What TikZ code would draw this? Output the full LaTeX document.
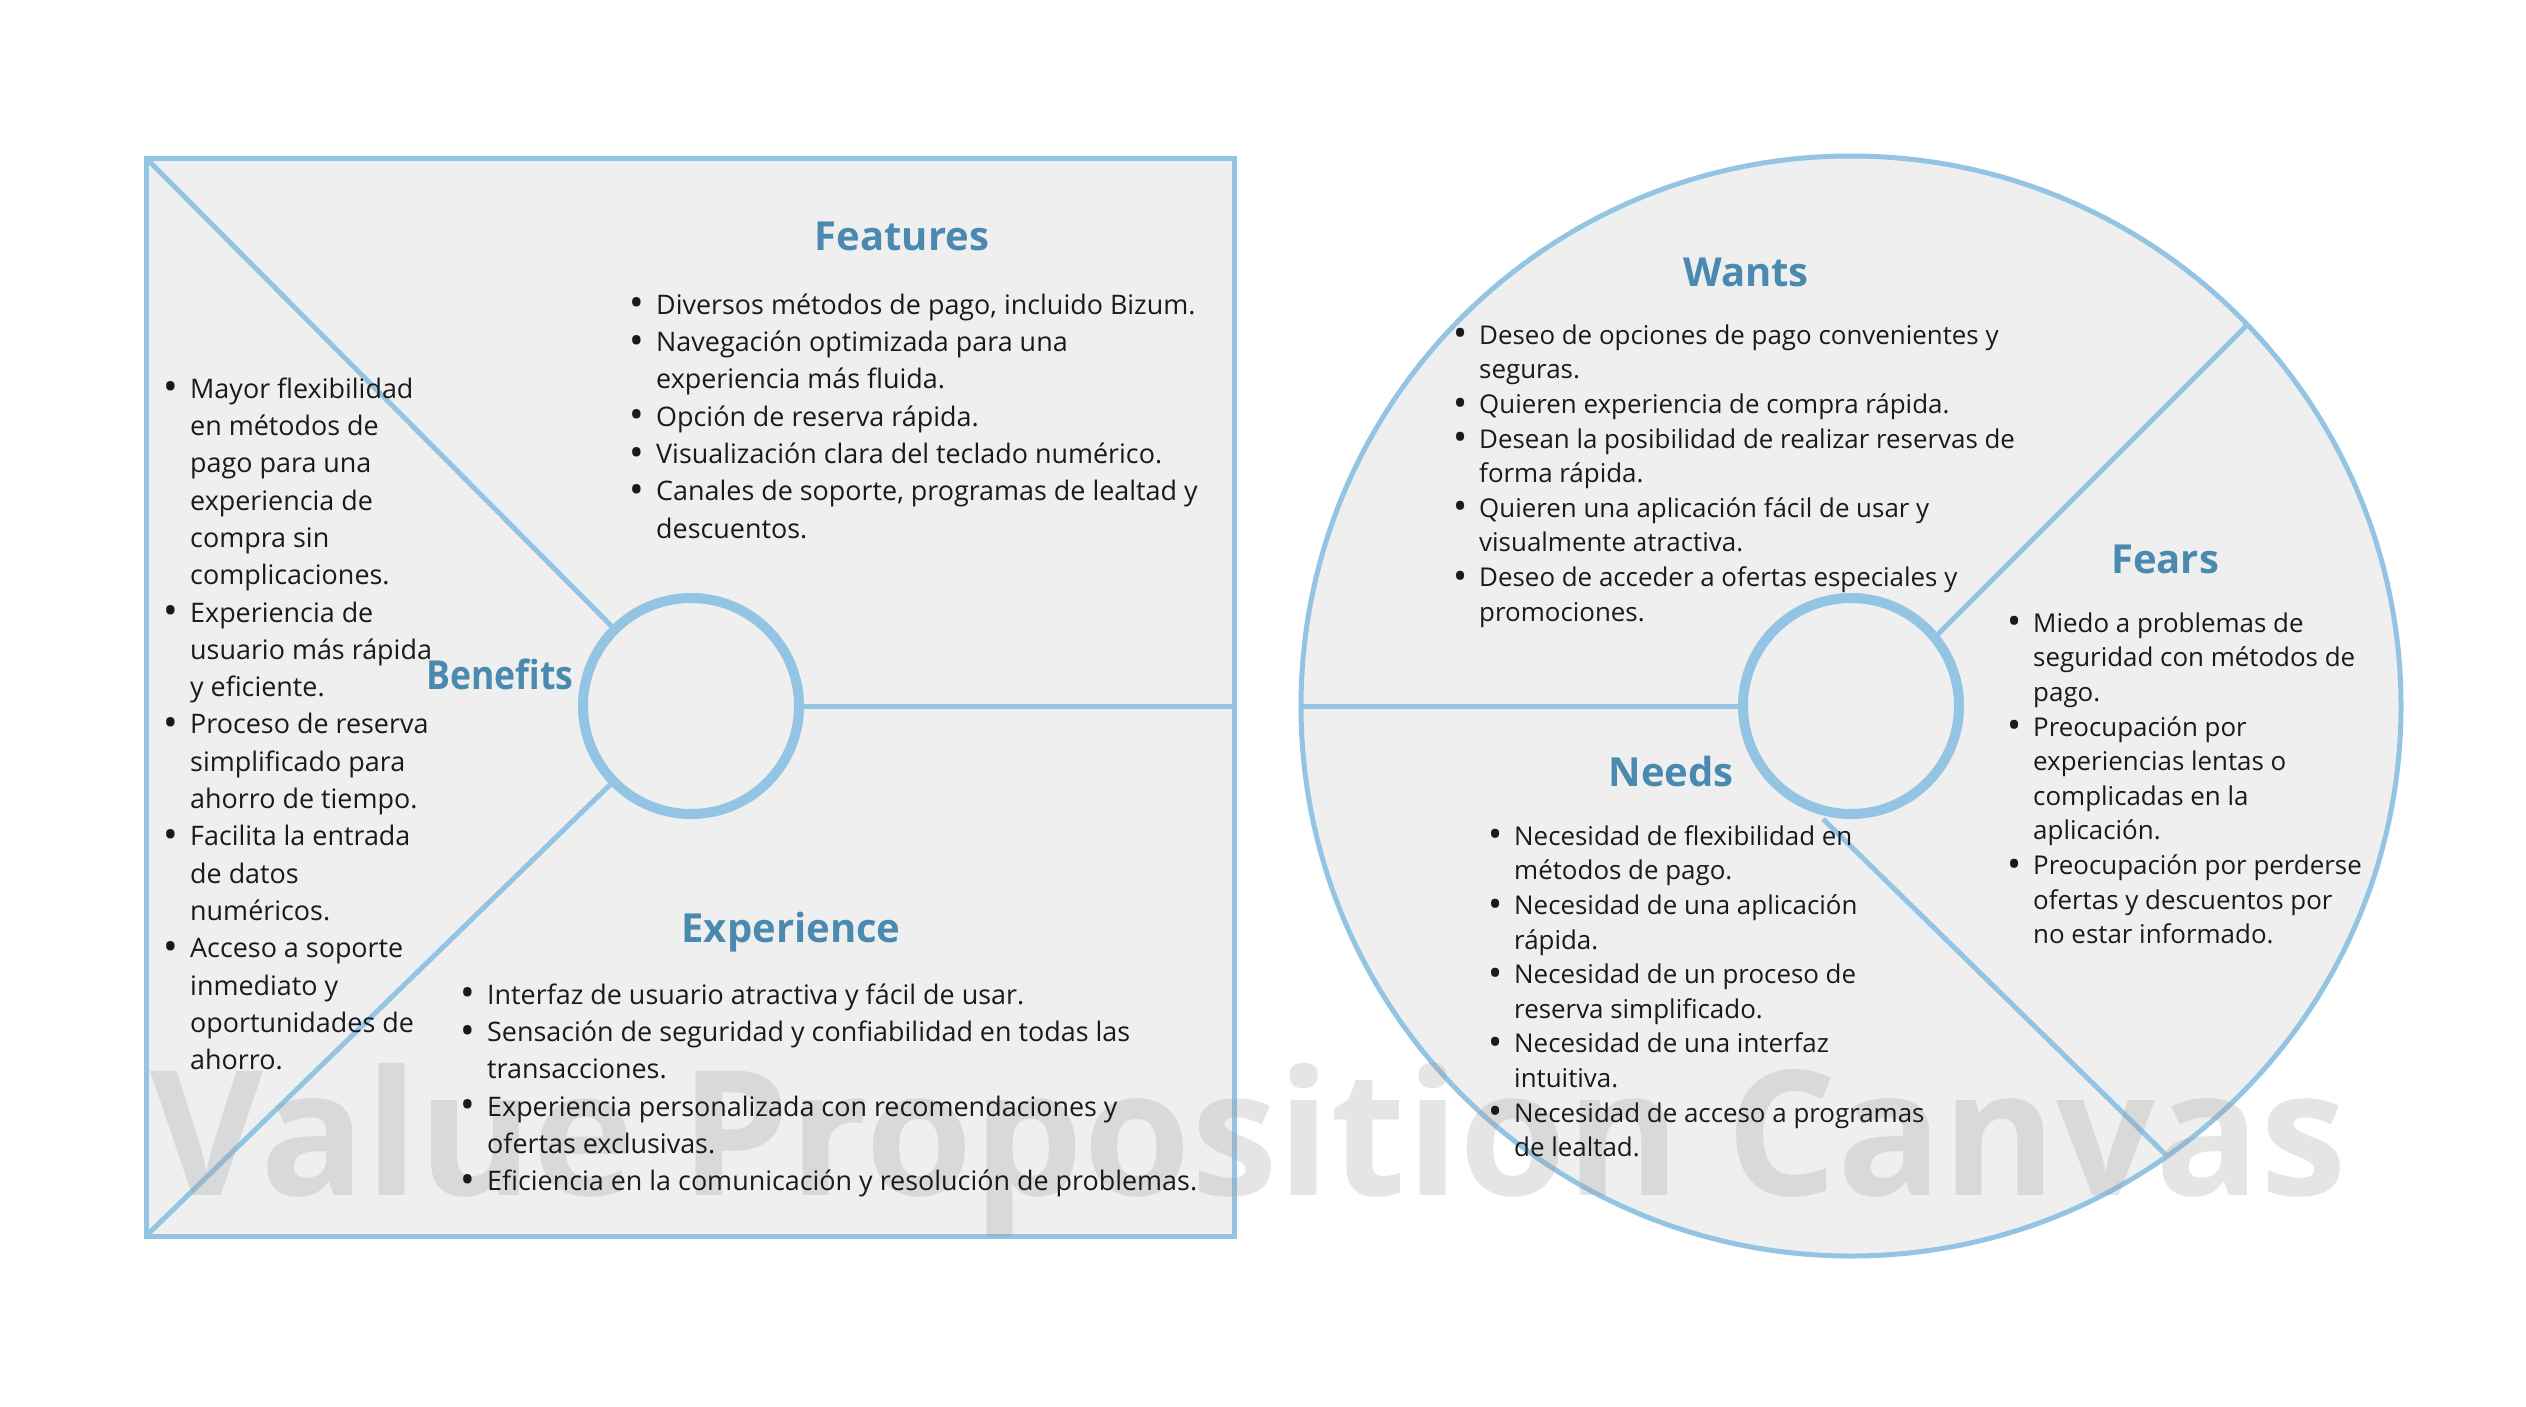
\documentclass[tikz,border=0pt]{standalone}
\usepackage{fontspec}
\usepackage{graphicx}
\setmainfont{Open Sans}
\definecolor{lineblue}{HTML}{93C4E4}
\definecolor{fillgray}{HTML}{EFEFEF}
\definecolor{titleblue}{HTML}{4A8AB0}
\definecolor{bodytext}{HTML}{1A1A1A}
\definecolor{wmgray}{HTML}{A0A0A0}
\tikzset{
  area/.style={draw=lineblue, line width=5pt, fill=fillgray},
  divider/.style={draw=lineblue, line width=5pt},
  hub/.style={draw=lineblue, line width=10pt, fill=fillgray},
  title/.style={font=\fontsize{40}{48}\selectfont\bfseries, text=titleblue, inner sep=0pt, anchor=base},
  bodyL/.style={font=\fontsize{26.9}{37.3}\selectfont, text=bodytext, inner sep=0pt, anchor=north west, align=left},
  bodyR/.style={font=\fontsize{25.9}{34.6}\selectfont, text=bodytext, inner sep=0pt, anchor=north west, align=left},
  watermark/.style={font=\fontsize{174}{174}\selectfont\bfseries, text=wmgray, opacity=0.28, inner sep=0pt, anchor=base}
}
\newcommand{\bul}{\llap{\raisebox{-0.1em}{\scalebox{1.45}{\textbullet}}\hspace{12pt}}}
\begin{document}
\begin{tikzpicture}[x=1pt,y=-1pt]
\useasboundingbox (0,0) rectangle (2526,1406);
% left square
\draw[area] (146,158) rectangle (1234,1236);
\draw[divider] (146,158) -- (691,706);
\draw[divider] (146,1236) -- (691,706);
\draw[divider] (691,706) -- (1234,706);
\draw[hub] (691,706) circle (108);
% right circle
\draw[area] (1851,706) circle (550);
\draw[divider] (1301,706) -- (1851,706);
\draw[divider] (1900,672) -- (2246,326);
\draw[divider] (1823,819) -- (2167,1156);
\draw[hub] (1851,706) circle (108);
% watermark
\node[watermark] (wm) at (1249,1195) {Value Proposition Canvas};
% titles
\node[title] (tfeat) at (902,250) {Features};
\node[title] (tbene) at (500,689) {\scalebox{0.89}[1]{Benefits}};
\node[title] (texp) at (791,942) {Experience};
\node[title] (twant) at (1746,286) {Wants};
\node[title] (tfear) at (2165,573) {Fears};
\node[title] (tneed) at (1671,786) {Needs};
% bodies
\node[bodyL] (bfeat) at (656,{314-26.1}) {\strut\bul Diversos métodos de pago, incluido Bizum.\\
\bul Navegación optimizada para una\\
experiencia más fluida.\\
\bul Opción de reserva rápida.\\
\bul Visualización clara del teclado numérico.\\
\bul Canales de soporte, programas de lealtad y\\
descuentos.};
\node[bodyL] (bbene) at (190,{398-26.1}) {\strut\bul Mayor flexibilidad\\
en métodos de\\
pago para una\\
experiencia de\\
compra sin\\
complicaciones.\\
\bul Experiencia de\\
usuario más rápida\\
y eficiente.\\
\bul Proceso de reserva\\
simplificado para\\
ahorro de tiempo.\\
\bul Facilita la entrada\\
de datos\\
numéricos.\\
\bul Acceso a soporte\\
inmediato y\\
oportunidades de\\
ahorro.};
\node[bodyL] (bexp) at (487,{1004-26.1}) {\strut\bul Interfaz de usuario atractiva y fácil de usar.\\
\bul Sensación de seguridad y confiabilidad en todas las\\
transacciones.\\
\bul Experiencia personalizada con recomendaciones y\\
ofertas exclusivas.\\
\bul Eficiencia en la comunicación y resolución de problemas.};
\node[bodyR] (bwant) at (1479,{344-24.2}) {\strut\bul Deseo de opciones de pago convenientes y\\
seguras.\\
\bul Quieren experiencia de compra rápida.\\
\bul Desean la posibilidad de realizar reservas de\\
forma rápida.\\
\bul Quieren una aplicación fácil de usar y\\
visualmente atractiva.\\
\bul Deseo de acceder a ofertas especiales y\\
promociones.};
\node[bodyR] (bfear) at (2033,{632-24.2}) {\strut\bul Miedo a problemas de\\
seguridad con métodos de\\
pago.\\
\bul Preocupación por\\
experiencias lentas o\\
complicadas en la\\
aplicación.\\
\bul Preocupación por perderse\\
ofertas y descuentos por\\
no estar informado.};
\node[bodyR] (bneed) at (1514,{845-24.2}) {\strut\bul Necesidad de flexibilidad en\\
métodos de pago.\\
\bul Necesidad de una aplicación\\
rápida.\\
\bul Necesidad de un proceso de\\
reserva simplificado.\\
\bul Necesidad de una interfaz\\
intuitiva.\\
\bul Necesidad de acceso a programas\\
de lealtad.};
\end{tikzpicture}
\end{document}
